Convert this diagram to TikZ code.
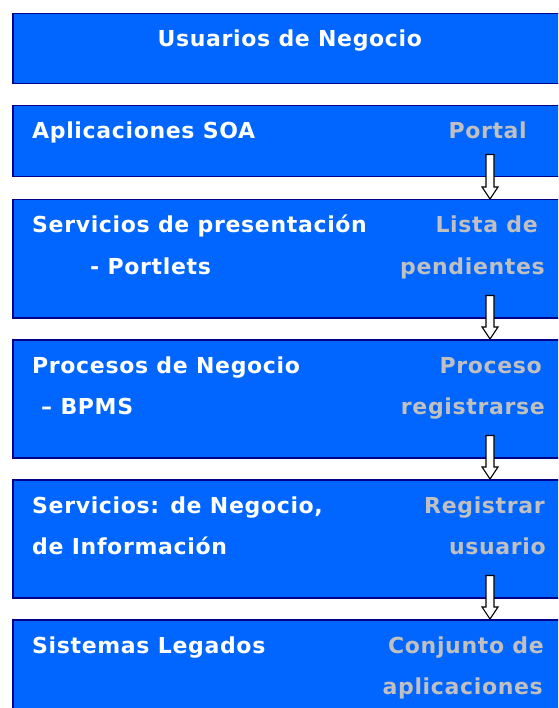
\documentclass[tikz,border=0pt]{standalone}
\usepackage{fontspec}
\newfontfamily\capafont{DejaVu Sans}[LetterSpace=3]
\usetikzlibrary{calc}
\definecolor{azul}{RGB}{0,102,255}
\definecolor{borde}{RGB}{0,0,140}
\definecolor{gris}{RGB}{192,192,192}

\begin{document}
\begin{tikzpicture}[x = 1pt, y = -1pt,
    capa/.style = {draw = borde, fill = azul, line width = 1.5pt, minimum width = 554pt, minimum height = 118pt, inner sep = 0pt, anchor = north west},
    texto/.style = {inner sep = 0pt, font = \capafont\bfseries\fontsize{22}{26}\selectfont},
    izq/.style = {texto, text = white, anchor = base west},
    der/.style = {texto, text = gris, anchor = base east},
    flecha/.style = {draw = black, fill = white, line width = 1.1pt, line join = miter}]
  \useasboundingbox (0,0) rectangle (558,708);
  \clip (0,0) rectangle (558,708);
  \node[capa, minimum height = 70pt] (usuarios) at (12,13) {};
  \node[capa, minimum height = 71pt] (soa) at (12,105) {};
  \node[capa] (pres) at (12,199) {};
  \node[capa] (proc) at (12,339) {};
  \node[capa] (serv) at (12,479) {};
  \node[capa] (leg) at (12,619) {};
  \coordinate (eje) at (490,0);

  \node[texto, text = white, anchor = base] (t-usuarios) at ([shift = {(0,34)}]usuarios.north) {Usuarios de Negocio};

  \node[izq] (t-soa) at ([shift = {(20,34)}]soa.north west) {Aplicaciones SOA};
  \node[der] (d-soa) at ([shift = {(515,34)}]soa.north west) {Portal};

  \node[izq] (t-pres) at ([shift = {(20,34)}]pres.north west) {Servicios de presentación};
  \node[izq] (t-pres2) at ([shift = {(78,75)}]pres.north west) {- Portlets};
  \node[der] (d-pres) at ([shift = {(526,34)}]pres.north west) {Lista de};
  \node[der] (d-pres2) at ([shift = {(533,75)}]pres.north west) {pendientes};

  \node[izq] (t-proc) at ([shift = {(20,34)}]proc.north west) {Procesos de Negocio};
  \node[izq] (t-proc2) at ([shift = {(29,75)}]proc.north west) {– BPMS};
  \node[der] (d-proc) at ([shift = {(530,34)}]proc.north west) {Proceso};
  \node[der] (d-proc2) at ([shift = {(533,75)}]proc.north west) {registrarse};

  \node[izq] (t-serv) at ([shift = {(20,34)}]serv.north west) {Servicios: de Negocio,};
  \node[izq] (t-serv2) at ([shift = {(20,75)}]serv.north west) {de Información};
  \node[der] (d-serv) at ([shift = {(533,34)}]serv.north west) {Registrar};
  \node[der] (d-serv2) at ([shift = {(534,75)}]serv.north west) {usuario};

  \node[izq] (t-leg) at ([shift = {(20,34)}]leg.north west) {Sistemas Legados};
  \node[der] (d-leg) at ([shift = {(532,34)}]leg.north west) {Conjunto de};
  \node[der] (d-leg2) at ([shift = {(531,75)}]leg.north west) {aplicaciones};

  \foreach \a/\b in {soa/pres, pres/proc, proc/serv, serv/leg}
    \draw[flecha] ($(\a.south -| eje)+(-4,-23)$) -- ($(\b.north -| eje)+(-4,-12)$) -- ++(-4,0)
      -- (\b.north -| eje) -- ++(8,-12) -- ++(-4,0) -- ($(\a.south -| eje)+(4,-23)$) -- cycle;
\end{tikzpicture}
\end{document}
